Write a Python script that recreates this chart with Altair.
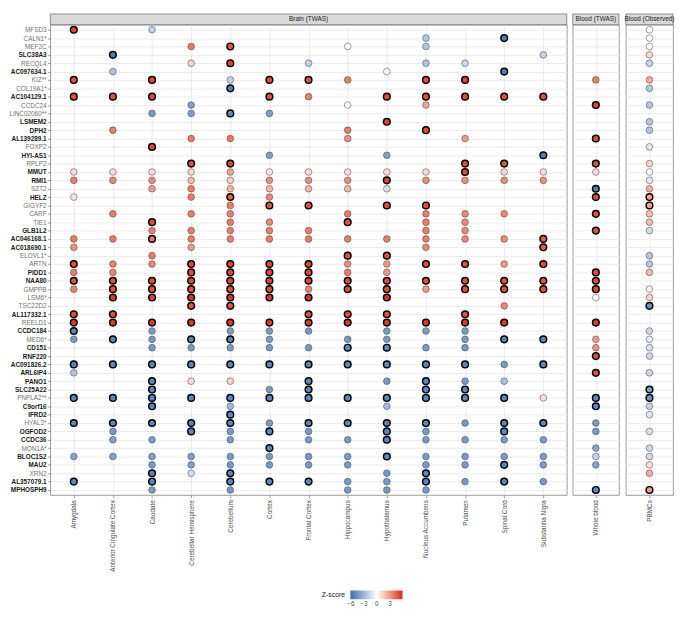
import altair as alt
import pandas as pd

GENES = ["MFSD3", "CALN1*", "MEF2C", "SLC38A3", "RECQL4", "AC097634.1", "KIZ**", "COL19A1*",
         "AC104129.1", "CCDC24", "LINC02060**", "LSMEM2", "DPH2", "AL139289.1", "FOXP2", "HYI-AS1",
         "RPLP2", "MMUT", "RMI1", "SZT2", "HELZ", "GIGYF2", "CARF", "TIE1", "GLB1L2", "AC046168.1",
         "AC018690.1", "ELOVL1*", "ARTN", "PIDD1", "NAA80", "GMPPB", "LSM6*", "TSC22D2", "AL117332.1",
         "REELD1", "CCDC184", "MED6*", "CD151", "RNF220", "AC091826.2", "ARL6IP4", "PANO1", "SLC25A22",
         "PNPLA2**", "C9orf16", "IFRD2", "HYAL3*", "OGFOD2", "CCDC36", "MON1A*", "BLOC1S2", "MAU2",
         "XRN2", "AL357079.1", "MPHOSPH9"]

BOLD_GENES = ["SLC38A3", "AC097634.1", "AC104129.1", "LSMEM2", "DPH2", "AL139289.1", "HYI-AS1",
              "MMUT", "RMI1", "HELZ", "GLB1L2", "AC046168.1", "AC018690.1", "PIDD1", "NAA80",
              "AL117332.1", "CCDC184", "CD151", "RNF220", "AC091826.2", "ARL6IP4", "PANO1", "SLC25A22",
              "C9orf16", "IFRD2", "OGFOD2", "CCDC36", "BLOC1S2", "MAU2", "AL357079.1", "MPHOSPH9"]

BRAIN_TISSUES = ["Amygdala", "Anterior Cingulate Cortex", "Caudate", "Cerebellar Hemisphere",
                 "Cerebellum", "Cortex", "Frontal Cortex", "Hippocampus", "Hypothalamus",
                 "Nucleus Accumbens", "Putamen", "Spinal Cord", "Substantia Nigra"]

# (gene, z-score, bonferroni-significant)
AMYGDALA = [("MFSD3", 5.2, 1), ("KIZ**", 4.9, 1), ("AC104129.1", 4.9, 1), ("MMUT", 1.1, 0),
            ("RMI1", 3.8, 0), ("HELZ", 0.8, 0), ("AC046168.1", 3.8, 0), ("AC018690.1", 3.2, 0),
            ("ARTN", 4.9, 1), ("PIDD1", 3.8, 0), ("NAA80", 4.9, 1), ("GMPPB", 3.6, 0),
            ("AL117332.1", 4.9, 1), ("REELD1", 5.5, 1), ("CCDC184", -5.0, 1), ("MED6*", -4.2, 0),
            ("AC091826.2", -5.2, 1), ("ARL6IP4", -2.4, 0), ("PNPLA2**", -5.0, 1), ("HYAL3*", -5.0, 1),
            ("BLOC1S2", -3.8, 0), ("AL357079.1", -5.0, 1)]
ANTERIOR_CINGULATE = [("SLC38A3", -5.6, 1), ("AC097634.1", -2.5, 0), ("AC104129.1", 4.9, 1),
                      ("DPH2", 3.8, 0), ("MMUT", 1.1, 0), ("RMI1", 3.5, 0), ("CARF", 3.9, 0),
                      ("AC046168.1", 3.9, 0), ("ARTN", 3.8, 0), ("PIDD1", 3.6, 0), ("NAA80", 5.0, 1),
                      ("GMPPB", 4.9, 1), ("LSM6*", 5.6, 1), ("AL117332.1", 4.9, 1), ("REELD1", 5.5, 1),
                      ("MED6*", -5.0, 1), ("AC091826.2", -5.0, 1), ("PNPLA2**", -5.0, 1),
                      ("HYAL3*", -5.0, 1), ("OGFOD2", -4.2, 0), ("CCDC36", -4.0, 0), ("BLOC1S2", -4.0, 0)]
CAUDATE = [("MFSD3", -1.9, 0), ("KIZ**", 5.0, 1), ("AC104129.1", 5.0, 1), ("LINC02060**", -4.2, 0),
           ("FOXP2", 5.2, 1), ("MMUT", 1.1, 0), ("RMI1", 3.3, 0), ("SZT2", 3.0, 0), ("TIE1", 5.0, 1),
           ("GLB1L2", 3.8, 0), ("AC046168.1", 3.9, 1), ("ELOVL1*", 3.8, 0), ("ARTN", 3.5, 0),
           ("NAA80", 5.0, 1), ("GMPPB", 4.9, 1), ("LSM6*", 5.3, 1), ("REELD1", 5.5, 1),
           ("CCDC184", -4.2, 0), ("MED6*", -4.2, 0), ("CD151", -4.2, 0), ("AC091826.2", -5.0, 1),
           ("PANO1", -5.0, 1), ("SLC25A22", -5.0, 1), ("PNPLA2**", -5.0, 1), ("C9orf16", -5.0, 1),
           ("HYAL3*", -5.0, 1), ("CCDC36", -4.0, 0), ("BLOC1S2", -4.0, 0), ("MAU2", -4.2, 0),
           ("XRN2", -5.0, 1), ("AL357079.1", -5.0, 1), ("MPHOSPH9", -4.2, 0)]
CEREBELLAR_HEMISPHERE = [("MEF2C", 3.9, 0), ("RECQL4", 1.4, 0), ("CCDC24", -4.0, 0),
                         ("LINC02060**", -4.0, 0), ("AL139289.1", 3.9, 0), ("RPLP2", 5.0, 1),
                         ("MMUT", 1.3, 0), ("RMI1", 2.0, 0), ("SZT2", 3.8, 0), ("HELZ", 3.8, 0),
                         ("CARF", 3.8, 0), ("GLB1L2", 3.8, 0), ("AC046168.1", 3.8, 0),
                         ("AC018690.1", 3.0, 0), ("ARTN", 5.2, 1), ("PIDD1", 5.0, 1), ("NAA80", 5.0, 1),
                         ("GMPPB", 4.9, 1), ("LSM6*", 5.7, 1), ("TSC22D2", 4.8, 1), ("REELD1", 5.5, 1),
                         ("MED6*", -5.0, 1), ("CD151", -4.2, 0), ("AC091826.2", -5.0, 1),
                         ("PANO1", 1.1, 0), ("PNPLA2**", -5.0, 1), ("HYAL3*", -5.0, 1),
                         ("OGFOD2", -5.0, 1), ("BLOC1S2", -4.0, 0), ("MAU2", -4.0, 0), ("XRN2", -1.4, 0)]
CEREBELLUM = [("MEF2C", 4.8, 1), ("RECQL4", 5.3, 1), ("KIZ**", -1.9, 0), ("COL19A1*", -5.4, 1),
              ("LINC02060**", -5.0, 1), ("AL139289.1", 3.9, 0), ("RPLP2", 5.2, 1), ("MMUT", 2.7, 0),
              ("RMI1", 1.4, 0), ("SZT2", 2.2, 0), ("HELZ", 4.5, 1), ("GIGYF2", 3.8, 0),
              ("CARF", 3.8, 0), ("TIE1", 3.8, 0), ("GLB1L2", 3.8, 0), ("AC046168.1", 3.8, 0),
              ("ARTN", 5.2, 1), ("PIDD1", 5.2, 1), ("NAA80", 5.2, 1), ("GMPPB", 5.0, 1),
              ("LSM6*", 5.7, 1), ("TSC22D2", 4.8, 1), ("REELD1", 5.5, 1), ("CCDC184", -4.2, 0),
              ("MED6*", -5.0, 1), ("CD151", -4.2, 0), ("AC091826.2", -5.0, 1), ("PANO1", 1.3, 0),
              ("PNPLA2**", -5.0, 1), ("C9orf16", -2.8, 0), ("IFRD2", -5.0, 1), ("HYAL3*", -5.0, 1),
              ("OGFOD2", -4.2, 0), ("CCDC36", -4.2, 0), ("BLOC1S2", -4.2, 0), ("MAU2", -4.2, 0),
              ("XRN2", -5.0, 1), ("AL357079.1", -5.0, 1), ("MPHOSPH9", -4.2, 0)]
CORTEX = [("KIZ**", 5.0, 1), ("AC104129.1", 4.9, 1), ("LINC02060**", -4.0, 0), ("HYI-AS1", -4.0, 0),
          ("MMUT", 0.8, 0), ("RMI1", 3.3, 0), ("SZT2", 2.2, 0), ("HELZ", 3.5, 0), ("GIGYF2", 4.9, 1),
          ("TIE1", 3.5, 0), ("GLB1L2", 3.8, 0), ("AC046168.1", 3.8, 0), ("ARTN", 5.2, 1),
          ("PIDD1", 5.2, 1), ("NAA80", 5.2, 1), ("GMPPB", 5.0, 1), ("LSM6*", 5.7, 1),
          ("REELD1", 5.5, 1), ("CCDC184", -4.2, 0), ("MED6*", -4.2, 0), ("CD151", -4.2, 0),
          ("AC091826.2", -5.0, 1), ("SLC25A22", -4.2, 0), ("PNPLA2**", -5.0, 1), ("HYAL3*", -4.2, 0),
          ("OGFOD2", -5.0, 1), ("MON1A*", -5.0, 1), ("BLOC1S2", -4.2, 0), ("MAU2", -4.2, 0),
          ("AL357079.1", -5.0, 1)]
FRONTAL_CORTEX = [("RECQL4", -1.9, 0), ("KIZ**", 4.9, 1), ("AC104129.1", 3.8, 0), ("MMUT", 1.1, 0),
                  ("RMI1", 3.3, 0), ("SZT2", 2.2, 0), ("GIGYF2", 4.9, 1), ("GLB1L2", 3.8, 0),
                  ("AC046168.1", 3.8, 0), ("ARTN", 5.2, 1), ("PIDD1", 5.2, 1), ("NAA80", 5.2, 1),
                  ("GMPPB", 3.6, 0), ("LSM6*", 5.7, 1), ("AL117332.1", 4.9, 1), ("REELD1", 5.5, 1),
                  ("CCDC184", -4.2, 0), ("CD151", -4.2, 0), ("AC091826.2", -5.0, 1),
                  ("PANO1", -5.0, 1), ("SLC25A22", -5.0, 1), ("PNPLA2**", -5.0, 1),
                  ("HYAL3*", -5.0, 1), ("OGFOD2", -4.2, 0), ("CCDC36", -4.2, 0), ("BLOC1S2", -4.2, 0),
                  ("MAU2", -4.2, 0), ("AL357079.1", -5.0, 1)]
HIPPOCAMPUS = [("MEF2C", 0.1, 0), ("KIZ**", 3.8, 0), ("CCDC24", 0.1, 0), ("DPH2", 3.8, 0),
               ("AL139289.1", 3.3, 0), ("MMUT", 1.1, 0), ("RMI1", 3.3, 0), ("SZT2", 2.2, 0),
               ("CARF", 3.8, 0), ("TIE1", 4.9, 1), ("AC046168.1", 3.8, 0), ("ELOVL1*", 5.0, 1),
               ("ARTN", 3.3, 0), ("PIDD1", 3.8, 0), ("NAA80", 5.0, 1), ("GMPPB", 5.0, 1),
               ("AL117332.1", 4.9, 1), ("REELD1", 5.5, 1), ("MED6*", -4.2, 0), ("CD151", -5.0, 1),
               ("AC091826.2", -5.0, 1), ("PNPLA2**", -5.0, 1), ("HYAL3*", -5.0, 1),
               ("CCDC36", -4.2, 0), ("BLOC1S2", -4.2, 0), ("MAU2", -4.2, 0), ("AL357079.1", -4.2, 0),
               ("MPHOSPH9", -4.2, 0)]
HYPOTHALAMUS = [("AC097634.1", 0.0, 0), ("AC104129.1", 5.0, 1), ("LSMEM2", 5.3, 1),
                ("HYI-AS1", -4.0, 0), ("MMUT", 1.1, 0), ("RMI1", 5.3, 1), ("SZT2", -1.2, 0),
                ("GIGYF2", 5.0, 1), ("AC046168.1", 3.8, 0), ("ELOVL1*", 5.0, 1), ("ARTN", 3.0, 0),
                ("PIDD1", 3.0, 0), ("NAA80", 5.0, 1), ("GMPPB", 5.0, 1), ("LSM6*", 5.7, 1),
                ("AL117332.1", 4.9, 1), ("REELD1", 5.5, 1), ("CCDC184", -4.2, 0), ("MED6*", -4.2, 0),
                ("CD151", -5.0, 1), ("AC091826.2", -5.0, 1), ("PANO1", -4.2, 0),
                ("PNPLA2**", -5.0, 1), ("C9orf16", -2.8, 0), ("HYAL3*", -5.0, 1), ("OGFOD2", -5.0, 1),
                ("CCDC36", -5.0, 1), ("BLOC1S2", -5.0, 1), ("XRN2", -4.2, 0), ("AL357079.1", -4.2, 0),
                ("MPHOSPH9", -4.2, 0)]
NUCLEUS_ACCUMBENS = [("CALN1*", -2.4, 0), ("MEF2C", -2.4, 0), ("RECQL4", -2.4, 0), ("KIZ**", 5.0, 1),
                     ("AC104129.1", 5.0, 1), ("CCDC24", 2.7, 0), ("DPH2", 5.0, 1), ("MMUT", 1.1, 0),
                     ("RMI1", 3.3, 0), ("GIGYF2", 5.0, 1), ("CARF", 3.8, 0), ("TIE1", 3.8, 0),
                     ("GLB1L2", 3.8, 0), ("AC046168.1", 3.8, 0), ("AC018690.1", 3.5, 0),
                     ("ARTN", 4.9, 1), ("NAA80", 5.0, 1), ("GMPPB", 3.0, 0), ("REELD1", 5.5, 1),
                     ("CCDC184", -4.2, 0), ("CD151", -4.2, 0), ("AC091826.2", -5.0, 1),
                     ("PANO1", -5.0, 1), ("SLC25A22", -5.0, 1), ("PNPLA2**", -5.0, 1),
                     ("HYAL3*", -5.0, 1), ("OGFOD2", -4.2, 0), ("CCDC36", -4.2, 0),
                     ("BLOC1S2", -4.2, 0), ("MAU2", -4.2, 0), ("XRN2", -5.0, 1),
                     ("AL357079.1", -5.0, 1), ("MPHOSPH9", -4.2, 0)]
PUTAMEN = [("RECQL4", -1.6, 0), ("KIZ**", 5.2, 1), ("AC104129.1", 5.0, 1), ("AL139289.1", 3.0, 0),
           ("RPLP2", 5.0, 1), ("MMUT", 5.0, 1), ("RMI1", 3.3, 0), ("CARF", 3.5, 0), ("TIE1", 3.5, 0),
           ("GLB1L2", 3.5, 0), ("AC046168.1", 3.5, 0), ("ARTN", 4.9, 1), ("NAA80", 4.9, 1),
           ("GMPPB", 4.9, 1), ("AL117332.1", 4.9, 1), ("REELD1", 5.5, 1), ("CCDC184", -4.2, 0),
           ("MED6*", -4.2, 0), ("CD151", -4.2, 0), ("AC091826.2", -5.0, 1), ("PANO1", -4.2, 0),
           ("SLC25A22", -5.0, 1), ("PNPLA2**", -5.0, 1), ("HYAL3*", -4.2, 0), ("CCDC36", -4.2, 0),
           ("BLOC1S2", -4.2, 0), ("MAU2", -4.2, 0), ("AL357079.1", -4.2, 0)]
SPINAL_CORD = [("CALN1*", -5.4, 1), ("AC097634.1", -5.4, 1), ("AC104129.1", 4.9, 1),
               ("RPLP2", 4.9, 1), ("MMUT", 1.1, 0), ("RMI1", 3.3, 0), ("CARF", 3.5, 0),
               ("AC046168.1", 3.5, 0), ("ARTN", 3.0, 0), ("NAA80", 4.9, 1), ("GMPPB", 4.9, 1),
               ("TSC22D2", 3.5, 0), ("REELD1", 5.5, 1), ("MED6*", -5.0, 1), ("AC091826.2", -4.2, 0),
               ("PANO1", -2.5, 0), ("PNPLA2**", -5.0, 1), ("HYAL3*", -5.0, 1), ("OGFOD2", -5.0, 1),
               ("CCDC36", -4.2, 0), ("BLOC1S2", -4.2, 0), ("MAU2", -5.0, 1), ("AL357079.1", -5.0, 1)]
SUBSTANTIA_NIGRA = [("SLC38A3", -1.9, 0), ("AC104129.1", 4.9, 1), ("HYI-AS1", -5.4, 1),
                    ("MMUT", 1.1, 0), ("RMI1", 3.3, 0), ("AC046168.1", 4.6, 1),
                    ("AC018690.1", 4.6, 1), ("ARTN", 4.9, 1), ("NAA80", 4.9, 1), ("GMPPB", 4.9, 1),
                    ("MED6*", -5.0, 1), ("AC091826.2", -5.0, 1), ("PNPLA2**", 1.0, 0),
                    ("HYAL3*", -5.0, 1), ("CCDC36", -4.2, 0), ("BLOC1S2", -4.2, 0), ("MAU2", -4.2, 0),
                    ("AL357079.1", -4.2, 0)]
WHOLE_BLOOD = [("KIZ**", 3.8, 0), ("CCDC24", 5.2, 1), ("AL139289.1", 5.0, 1), ("RPLP2", 5.0, 1),
               ("MMUT", 1.1, 0), ("SZT2", -5.4, 1), ("HELZ", 5.0, 1), ("CARF", 4.9, 1),
               ("GLB1L2", 4.9, 1), ("PIDD1", 5.0, 1), ("NAA80", 5.0, 1), ("GMPPB", 5.2, 1),
               ("LSM6*", 0.0, 0), ("REELD1", 5.5, 1), ("MED6*", 3.0, 0), ("CD151", 3.3, 0),
               ("RNF220", 5.0, 1), ("ARL6IP4", 4.9, 1), ("PNPLA2**", -5.0, 1), ("C9orf16", -5.0, 1),
               ("HYAL3*", -4.2, 0), ("OGFOD2", -4.2, 0), ("MON1A*", -3.8, 0), ("BLOC1S2", -1.9, 0),
               ("MAU2", -3.8, 0), ("MPHOSPH9", -5.0, 1)]
PBMCS = [("MFSD3", 0.0, 0), ("CALN1*", 0.0, 0), ("MEF2C", 0.0, 0), ("SLC38A3", 1.2, 0),
         ("RECQL4", -1.8, 0), ("KIZ**", 2.5, 0), ("COL19A1*", -2.3, 0), ("CCDC24", -2.3, 0),
         ("LSMEM2", -2.3, 0), ("DPH2", -2.3, 0), ("FOXP2", -0.9, 0), ("RPLP2", 1.3, 0),
         ("MMUT", 0.0, 0), ("RMI1", -0.9, 0), ("SZT2", 2.5, 0), ("HELZ", 2.7, 1), ("GIGYF2", 2.7, 1),
         ("CARF", 2.0, 0), ("TIE1", 2.0, 0), ("GLB1L2", -1.4, 0), ("ELOVL1*", -2.3, 0),
         ("ARTN", -2.3, 0), ("PIDD1", 2.0, 0), ("GMPPB", 0.5, 0), ("LSM6*", 1.3, 0),
         ("TSC22D2", -4.6, 1), ("CCDC184", -1.6, 0), ("MED6*", -0.7, 0), ("CD151", -1.2, 0),
         ("RNF220", -1.6, 0), ("ARL6IP4", -1.6, 0), ("SLC25A22", -4.0, 1), ("PNPLA2**", -4.4, 1),
         ("C9orf16", -1.8, 0), ("IFRD2", -1.0, 0), ("OGFOD2", -1.2, 0), ("MON1A*", -1.6, 0),
         ("BLOC1S2", -1.6, 0), ("MAU2", 1.0, 0), ("XRN2", 2.4, 0), ("MPHOSPH9", 3.0, 1)]

BRAIN_DATA = [AMYGDALA, ANTERIOR_CINGULATE, CAUDATE, CEREBELLAR_HEMISPHERE, CEREBELLUM, CORTEX,
              FRONTAL_CORTEX, HIPPOCAMPUS, HYPOTHALAMUS, NUCLEUS_ACCUMBENS, PUTAMEN, SPINAL_CORD,
              SUBSTANTIA_NIGRA]

LEGEND_TICKS = [-6, -3, 0, 3]


def frame(tissues, datasets):
    rows = []
    for t, d in zip(tissues, datasets):
        for g, z, s in d:
            rows.append({"tissue": t, "gene": g, "z": z, "sig": s})
    return pd.DataFrame(rows)


H = 478
FONT = "Liberation Sans"
GRID = "#EBEBEB"

cscale = alt.Scale(domain=[-6.1, -3, 0, 3, 5.9],
                   range=["#3A6FAF", "#9DB6D8", "#FFFFFF", "#F09A85", "#E0281C"],
                   interpolate="rgb")
legend = alt.Legend(orient="none", legendX=276, legendY=575, direction="horizontal",
                    title="Z-score", titleOrient="left", titleFontSize=7, titleFontWeight="normal",
                    titleFont=FONT, titleColor="#1A1A1A", titleBaseline="middle",
                    labelFontSize=6.5, labelFont=FONT, labelColor="#4D4D4D",
                    gradientLength=53, gradientThickness=9, gradientStrokeWidth=0,
                    values=LEGEND_TICKS, tickCount=4)

bold_js = "[" + ",".join("'" + g + "'" for g in BOLD_GENES) + "]"
bold_test = f"indexof({bold_js}, datum.value) >= 0"

yaxis_main = alt.Axis(title=None, labelFontSize=6.5, labelFont=FONT,
                      labelColor={"condition": {"test": bold_test, "value": "#1A1A1A"}, "value": "#707070"},
                      labelFontWeight={"condition": {"test": bold_test, "value": "bold"}, "value": "normal"},
                      tickColor="#333333", tickSize=2.75, tickWidth=0.5, domain=False,
                      grid=True, gridColor=GRID, gridWidth=1, labelPadding=1.5)
yaxis_other = alt.Axis(title=None, labels=False, ticks=False, domain=False, grid=True,
                       gridColor=GRID, gridWidth=1)


def panel(df, tissues, width, title, main):
    xaxis = alt.Axis(title=None, labelAngle=-90, labelFontSize=6.5, labelFont=FONT,
                     labelColor="#4D4D4D", tickColor="#333333", tickSize=2.75, tickWidth=0.5,
                     domain=False, grid=True, gridColor=GRID, gridWidth=1, labelPadding=2)
    pts = alt.Chart(df).mark_circle(size=46, opacity=1).encode(
        x=alt.X("tissue:N", scale=alt.Scale(domain=tissues, padding=0.6), axis=xaxis),
        y=alt.Y("gene:N", scale=alt.Scale(domain=GENES, padding=0.6),
                axis=yaxis_main if main else yaxis_other),
        color=alt.Color("z:Q", scale=cscale, legend=legend),
        stroke=alt.condition("datum.sig == 1", alt.value("#000000"), alt.value("#3A3A3A")),
        strokeWidth=alt.condition("datum.sig == 1", alt.value(1.5), alt.value(0.5)),
        order=alt.Order("sig:Q"),
    )
    hdr = alt.Chart(alt.Data(values=[{"t": title}]))
    rect = hdr.mark_rect(fill="#D9D9D9", stroke="#333333", strokeWidth=0.5).encode(
        x=alt.value(0), x2=alt.value(width), y=alt.value(-11), y2=alt.value(0))
    txt = hdr.mark_text(fontSize=6.5, font=FONT, color="#1A1A1A", baseline="middle",
                        align="center").encode(
        text="t:N", x=alt.value(width / 2), y=alt.value(-5.5))
    return alt.layer(pts, rect, txt).properties(width=width, height=H)


brain = panel(frame(BRAIN_TISSUES, BRAIN_DATA), BRAIN_TISSUES, 525, "Brain (TWAS)", True)
blood = panel(frame(["Whole blood"], [WHOLE_BLOOD]), ["Whole blood"], 47, "Blood (TWAS)", False)
pbmc = panel(frame(["PBMCs"], [PBMCS]), ["PBMCs"], 48, "Blood (Observed)", False)

chart = alt.hconcat(brain, blood, pbmc, spacing=4).resolve_scale(
    color="shared", x="independent", y="independent"
).properties(
    padding={"left": 0, "top": 0, "right": 2, "bottom": 2}
).configure_view(stroke="#808080", strokeWidth=0.8)

chart.save("out.html", embed_options={"renderer": "svg", "actions": False})
